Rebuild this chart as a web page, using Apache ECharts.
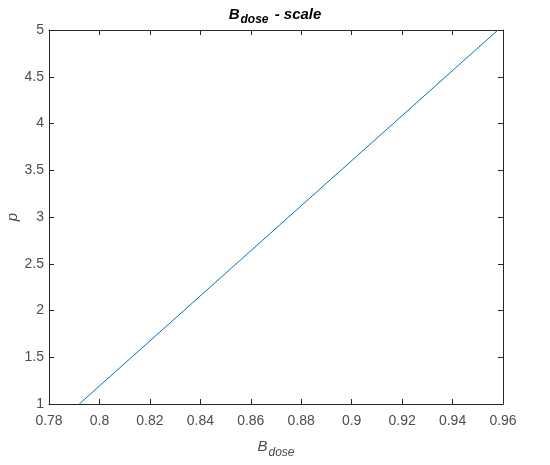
<!DOCTYPE html>
<html><head><meta charset="utf-8">
<script src="https://cdn.jsdelivr.net/npm/echarts@6/dist/echarts.min.js"></script>
<style>html,body{margin:0;padding:0;background:#fff}#c{width:550px;height:465px}</style>
</head><body><div id="c"></div>
<script>
const bDose = [0.792, 0.8335, 0.875, 0.9165, 0.958];
const pVals = [1, 2, 3, 4, 5];
const xTicks = [0.78, 0.8, 0.82, 0.84, 0.86, 0.88, 0.9, 0.92, 0.94, 0.96];
const yTicks = [1, 1.5, 2, 2.5, 3, 3.5, 4, 4.5, 5];
const yName = 'p';

const FONT = '"Liberation Sans", Arial, sans-serif';
const axisCol = '#262626';
const labCol = '#4d4d4d';
const chart = echarts.init(document.getElementById('c'), null, {renderer: 'canvas'});
const fmtX = v => String(Math.round(v*100)/100);
const common = {
  axisLine: {show: true, onZero: false, lineStyle: {color: axisCol, width: 1}},
  axisTick: {show: true, inside: true, length: 5, lineStyle: {color: axisCol}},
  splitLine: {show: false}
};
chart.setOption({
  animation: false,
  backgroundColor: '#fff',
  title: {
    text: '{b|B}{s|dose}{b| - scale}',
    left: 'center', top: 2,
    textStyle: {
      rich: {
        b: {fontFamily: FONT, fontWeight: 'bold', fontStyle: 'italic', fontSize: 15, color: '#000', verticalAlign: 'top', lineHeight: 16},
        s: {fontFamily: FONT, fontWeight: 'bold', fontStyle: 'italic', fontSize: 12, color: '#000', padding: [10, 2, 0, 1], lineHeight: 16}
      }
    }
  },
  graphic: [{
    type: 'text', x: 13, y: 217, rotation: Math.PI / 2,
    style: {text: yName, font: 'italic 15px ' + FONT, fill: labCol, align: 'center', verticalAlign: 'middle'}
  }],
  grid: {left: 49, right: 47, top: 30, bottom: 61, containLabel: false, outerBoundsMode: 'none'},
  xAxis: [
    Object.assign({}, common, {
      type: 'value', min: 0.78, max: 0.96, interval: 0.02, position: 'bottom',
      axisLabel: {color: labCol, fontFamily: FONT, fontSize: 14, margin: 10, formatter: fmtX},
      name: '{b|B}{s|dose}', nameLocation: 'middle', nameGap: 31,
      nameTextStyle: {rich: {
        b: {fontFamily: FONT, fontStyle: 'italic', fontSize: 15, color: labCol},
        s: {fontFamily: FONT, fontStyle: 'italic', fontSize: 12, color: labCol, padding: [12, 0, 0, 1]}
      }}
    }),
    Object.assign({}, common, {
      type: 'value', min: 0.78, max: 0.96, interval: 0.02, position: 'top',
      axisLabel: {show: false}
    })
  ],
  yAxis: [
    Object.assign({}, common, {
      type: 'value', min: 1, max: 5, interval: 0.5, position: 'left',
      axisLabel: {color: labCol, fontFamily: FONT, fontSize: 14, margin: 5}
    }),
    Object.assign({}, common, {
      type: 'value', min: 1, max: 5, interval: 0.5, position: 'right',
      axisLabel: {show: false}
    })
  ],
  series: [{
    type: 'line',
    data: bDose.map((x, i) => [x, pVals[i]]),
    showSymbol: false,
    symbol: 'none',
    lineStyle: {color: '#0072BD', width: 1},
    xAxisIndex: 0, yAxisIndex: 0
  }]
});
</script></body></html>
